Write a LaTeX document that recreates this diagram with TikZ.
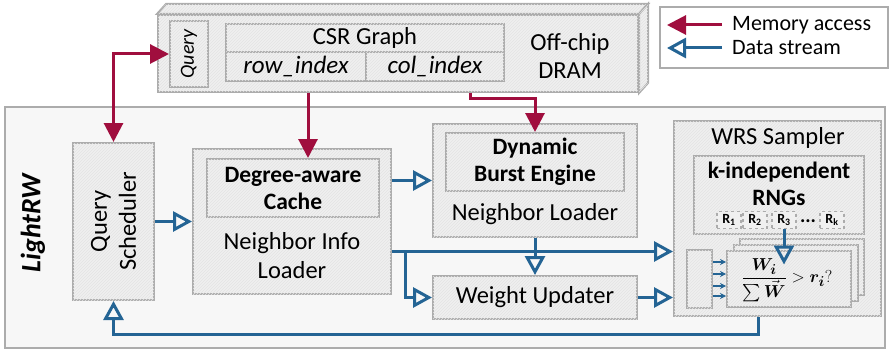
\documentclass[tikz,border=0pt]{standalone}
\usepackage{fontspec}
\usepackage{amsmath}
\setmainfont{Carlito}
\usetikzlibrary{arrows.meta,patterns}

\definecolor{memred}{RGB}{160,14,62}
\definecolor{datablue}{RGB}{36,100,148}
\definecolor{boxline}{RGB}{172,172,172}

\begin{document}
\begin{tikzpicture}[x=1pt, y=-1pt,
        font=\fontsize{24.5}{29}\selectfont,
        memtip/.tip={Triangle[length=19pt,width=19pt]},
        datatip/.tip={Triangle[open,length=19pt,width=20pt]},
        mem/.style={memred, line width=3pt, -memtip},
        data/.style={datablue, line width=3pt, -datatip},
        box/.style={draw=boxline, line width=2pt, fill=black!6, inner sep=0pt,
            postaction={pattern=north east lines, pattern color=black!11}},
        bold/.style={font=\bfseries\fontsize{23.5}{27}\selectfont, align=center},
        rbox/.style={draw=boxline, line width=1.5pt, dashed, fill=black!6, inner sep=0pt,
            minimum width=24pt, minimum height=17pt, font=\bfseries\fontsize{14}{14}\selectfont}]
    \useasboundingbox (0,0) rectangle (890,350);

    % off-chip memory block
    \node[box, minimum width=480pt, minimum height=77pt] (dram) at (398,53.5) {};
    \path[box] (dram.north west) -- ++(9,-10) -- ([shift={(9,-10)}]dram.north east) -- (dram.north east) -- cycle;
    \path[box] (dram.north east) -- ++(9,-10) -- ([shift={(9,-10)}]dram.south east) -- (dram.south east) -- cycle;
    \node[box, minimum width=38pt, minimum height=66pt] (query) at (189,54) {};
    \node[rotate=90, font=\itshape\fontsize{20}{22}\selectfont] (querytxt) at (query) {Query};
    \node[box, minimum width=278pt, minimum height=28pt] (csr) at (365,38) {CSR Graph};
    \node[box, minimum width=140pt, minimum height=29pt, font=\itshape\fontsize{25}{29}\selectfont] (row) at (296,66.5) {row\_index};
    \node[box, minimum width=138pt, minimum height=29pt, font=\itshape\fontsize{25}{29}\selectfont] (col) at (435,66.5) {col\_index};
    \node[align=center, font=\fontsize{24.5}{28}\selectfont] (dramtxt) at (570,56) {Off-chip\\DRAM};

    % legend
    \node[draw=boxline, line width=2pt, fill=white, minimum width=228pt, minimum height=61pt] (legend) at (774,37.5) {};
    \node[anchor=west, inner sep=2pt, font=\fontsize{22}{25}\selectfont] (memtxt) at (730,25) {Memory access};
    \node[anchor=west, inner sep=2pt, font=\fontsize{22}{25}\selectfont] (datatxt) at (730,48) {Data stream};
    \draw[mem, shorten >=8pt] ([xshift=-8pt]memtxt.west) -- (memtxt.west -| legend.west);
    \draw[data, shorten >=8pt] ([xshift=-8pt]datatxt.west) -- (datatxt.west -| legend.west);

    % accelerator
    \node[draw=boxline, line width=2pt, fill=black!3, minimum width=880pt, minimum height=241pt] (lightrw) at (445,227.5) {};
    \node[rotate=90, font=\bfseries\itshape\fontsize{28}{30}\selectfont] (lrwtxt) at (33,223) {LightRW};

    \node[box, minimum width=81pt, minimum height=157pt] (qs) at (113.5,221.5) {};
    \node[rotate=90, align=center] (qstxt) at (qs) {Query\\Scheduler};

    \node[box, minimum width=198pt, minimum height=145pt] (nil) at (292,221.5) {};
    \node[box, bold, minimum width=172pt, minimum height=58pt] (dac) at (293,188) {Degree-aware\\Cache};
    \node[align=center] (niltxt) at (292,256) {Neighbor Info\\Loader};

    \node[box, minimum width=204pt, minimum height=113pt] (nl) at (535,180.5) {};
    \node[box, bold, minimum width=178pt, minimum height=58pt] (dbe) at (535,162) {Dynamic\\Burst Engine};
    \node (nltxt) at (535,214) {Neighbor Loader};

    \node[box, minimum width=204pt, minimum height=43pt] (wu) at (535,297.5) {Weight Updater};

    % sampler
    \node[box, minimum width=207pt, minimum height=195pt] (wrs) at (777.5,218.5) {};
    \node (wrstxt) at (778,138) {WRS Sampler};
    \node[box, minimum width=170pt, minimum height=78pt] (rng) at (779,195) {};
    \node[bold] (rngtxt) at (779,184) {k-independent\\RNGs};
    \foreach \i/\x in {1/729, 2/755, 3/784, k/832}
        \node[rbox] (r\i) at (\x,220) {R\textsubscript{\i}};
    \node[font=\bfseries\fontsize{20}{20}\selectfont, inner sep=0pt] (rdots) at (808,221) {...};

    \foreach \n/\d in {back/2, mid/1, front/0}
        \node[box, minimum width=124pt, minimum height=56pt] (cmp\n) at ({789+6.5*\d},{278.5-5.8*\d}) {};
    \node[font=\fontsize{19}{22}\selectfont] (formula) at (787,280)
        {$\dfrac{\boldsymbol{W_i}}{\sum\vec{\boldsymbol{W}}} > \boldsymbol{r_i}?$};
    \node[box, minimum width=25pt, minimum height=58pt] (buf) at (699.5,279) {};
    \foreach \dy in {17,5,-7,-17} {
        \coordinate (s) at ([yshift=\dy pt]buf.east);
        \draw[datablue, line width=1.3pt, -{Stealth[length=6pt,width=6pt]}] (s) -- (s -| cmpfront.west);
    }
    \coordinate (hit) at ([yshift=-15pt]cmpfront.north);
    \draw[data] (r3.south) -- (r3.south |- hit);

    % data streams
    \draw[data] (qs.east) -- (nil.west);
    \draw[data] (nil.east |- nl.west) -- (nl.west);
    \draw[data] ([yshift=-30pt]nil.east) coordinate (split) -- (wrs.west |- split);
    \draw[data] ([xshift=13pt]split) |- (wu.west);
    \draw[data] (nl.south) -- (wu.north);
    \draw[data] (wu.east) -- (wu.east -| wrs.west);
    \draw[data] ([xshift=-19pt]wrs.south) -- ++(0,17) -| (qs.south);

    % memory accesses
    \draw[mem, memtip-memtip] (query.west) -| (qs.north);
    \draw[mem] ([xshift=15pt]dac.north |- dram.south) -- ([xshift=15pt]dac.north);
    \draw[mem] ([xshift=35pt]col.south |- dram.south) -- ++(0,6) -| (dbe.north);
\end{tikzpicture}
\end{document}
